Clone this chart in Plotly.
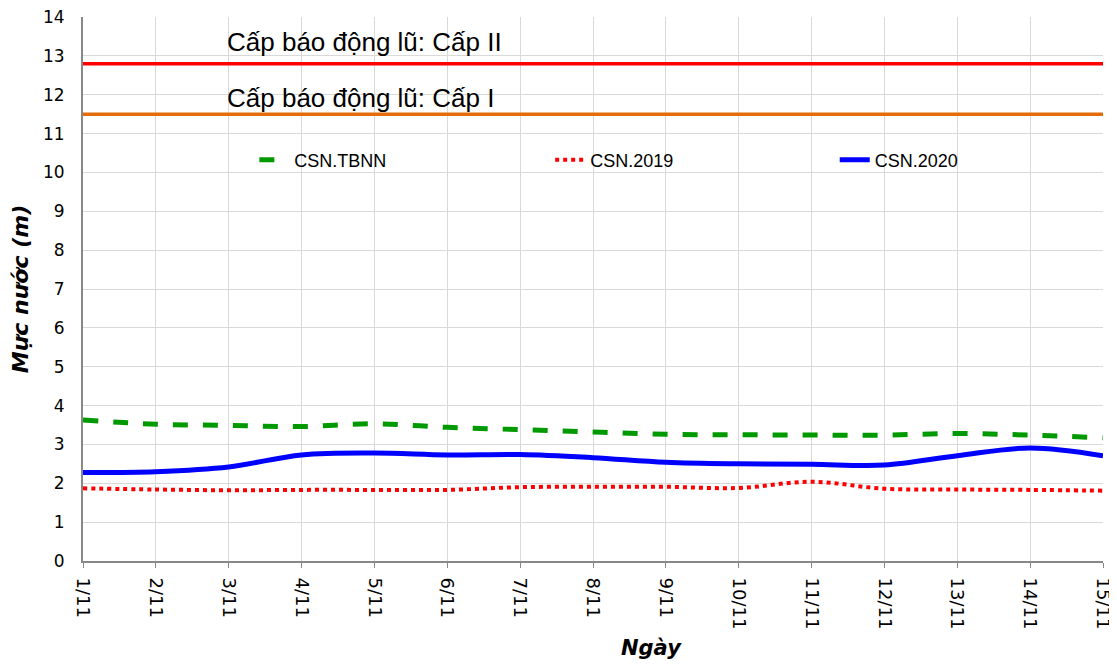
import plotly.graph_objects as go

days = ["1/11", "2/11", "3/11", "4/11", "5/11", "6/11", "7/11", "8/11",
        "9/11", "10/11", "11/11", "12/11", "13/11", "14/11", "15/11"]
csn_tbnn = [3.63, 3.52, 3.49, 3.46, 3.53, 3.44, 3.38, 3.32, 3.26, 3.25, 3.24, 3.24, 3.28, 3.24, 3.17]
csn_2019 = [1.87, 1.84, 1.82, 1.83, 1.83, 1.83, 1.90, 1.91, 1.91, 1.88, 2.04, 1.86, 1.84, 1.83, 1.81]
csn_2020 = [2.28, 2.30, 2.42, 2.73, 2.78, 2.73, 2.74, 2.66, 2.54, 2.50, 2.49, 2.47, 2.71, 2.91, 2.71]
alarm_levels = [12.8, 11.5]
alarm_labels = ["Cấp báo động lũ: Cấp II", "Cấp báo động lũ: Cấp I"]
alarm_label_gap = [0.55, 0.42]
alarm_colors = ["#FF0000", "#E46C0A"]
y_ticks = list(range(0, 15))

x = list(range(len(days)))

fig = go.Figure()
for lvl, col in zip(alarm_levels, alarm_colors):
    fig.add_trace(go.Scatter(x=x, y=[lvl] * len(x), mode="lines",
                             line=dict(color=col, width=3.5), showlegend=False,
                             hoverinfo="skip"))

fig.add_trace(go.Scatter(x=x, y=csn_tbnn, mode="lines", name="CSN.TBNN", legend="legend",
                         line=dict(color="#009A00", width=5, dash="dash", shape="spline")))
fig.add_trace(go.Scatter(x=x, y=csn_2019, mode="lines", name="CSN.2019", legend="legend2",
                         line=dict(color="#FF0000", width=4, dash="dot", shape="spline")))
fig.add_trace(go.Scatter(x=x, y=csn_2020, mode="lines", name="CSN.2020", legend="legend3",
                         line=dict(color="#0000FF", width=5, shape="spline")))

for lvl, gap, txt in zip(alarm_levels, alarm_label_gap, alarm_labels):
    fig.add_annotation(x=1.95, y=lvl + gap, text=txt, showarrow=False,
                       xanchor="left", yanchor="middle",
                       font=dict(family="Liberation Sans", size=26, color="#000000"))

fig.add_annotation(xref="paper", yref="paper", x=0.557, y=-0.16, text="<b><i>Ngày</i></b>",
                   showarrow=False, xanchor="center", yanchor="middle",
                   font=dict(family="DejaVu Sans", size=21, color="#000000"))

leg_common = dict(orientation="h", yanchor="middle", xanchor="left", y=0.737,
                  font=dict(family="Liberation Sans", size=18), bgcolor="rgba(0,0,0,0)")

fig.update_layout(
    width=1109, height=657,
    margin=dict(l=75, r=14, t=9, b=104, autoexpand=False),
    paper_bgcolor="white", plot_bgcolor="white",
    font=dict(family="DejaVu Sans", size=16, color="#000000"),
    legend=dict(x=0.168, **leg_common),
    legend2=dict(x=0.458, **leg_common),
    legend3=dict(x=0.737, **leg_common),
    xaxis=dict(range=[0, 14], tickvals=x, ticktext=days, tickangle=90,
               showgrid=True, gridcolor="#D9D9D9", gridwidth=1,
               showline=True, linecolor="#888888", linewidth=2, mirror=False,
               ticks="outside", ticklen=5, tickcolor="#888888",
               zeroline=False, tickfont=dict(size=18), automargin=False,
               ticklabeloverflow="allow", ticklabelstandoff=6),
    yaxis=dict(range=[0, 14], tickvals=y_ticks, showgrid=True, gridcolor="#D9D9D9",
               gridwidth=1, showline=True, linecolor="#888888", linewidth=2,
               zeroline=False, tickfont=dict(size=17), ticks="", ticklabelstandoff=13,
               automargin=False, ticklabeloverflow="allow",
               title=dict(text="<b><i>Mực nước (m)</i></b>", standoff=8,
                          font=dict(family="DejaVu Sans", size=22))),
)

fig.write_html("out.html")
